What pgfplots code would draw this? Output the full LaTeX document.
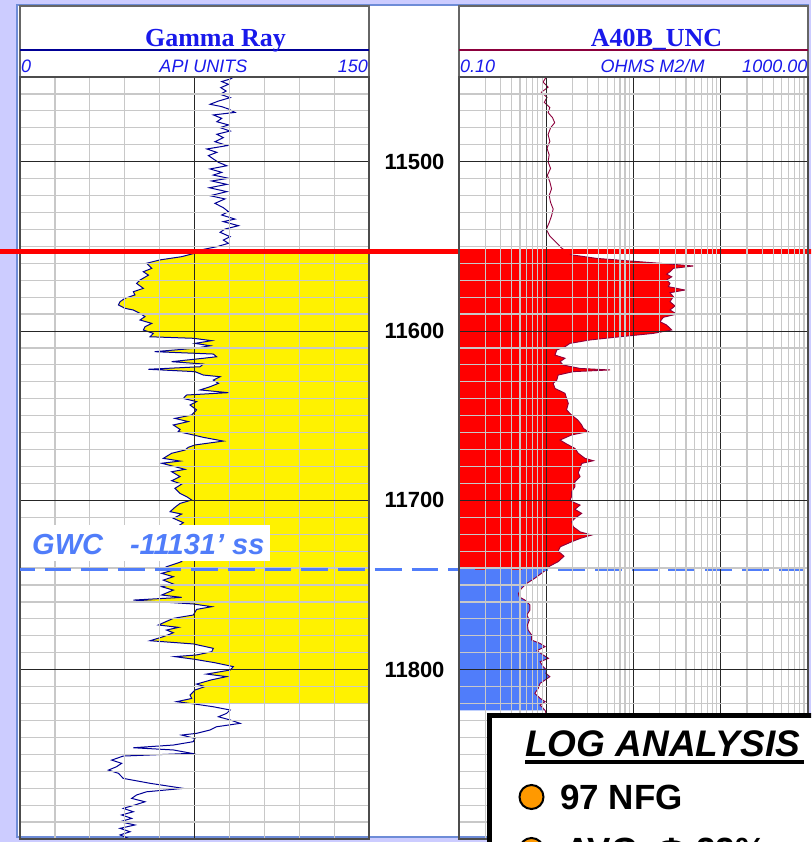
\documentclass[border=0pt]{standalone}
\usepackage{pgfplots}
\pgfplotsset{compat=1.18}
\usepackage{pgfplotstable}
\usepackage{fontspec}
\setmainfont{Liberation Sans}
\newfontfamily\tnr{Liberation Serif}

\definecolor{lav}{RGB}{204,204,255}
\definecolor{framebl}{RGB}{110,140,215}
\definecolor{ttlblue}{RGB}{25,25,235}
\definecolor{grnavy}{RGB}{0,0,150}
\definecolor{resmaroon}{RGB}{140,0,60}
\definecolor{gwcblue}{RGB}{80,125,250}
\definecolor{gridgray}{RGB}{200,200,200}
\definecolor{orng}{RGB}{255,153,0}

% Gamma ray: depth d (ft), value v (API)
\pgfplotstableread{
d v
11450 92
11451.2 90.3
11452.7 86.7
11454.3 89.6
11456.3 86.3
11458.3 88.6
11460.2 86.0
11462.2 90.3
11464.2 85.3
11466.1 81.7
11467.5 86.7
11468.9 89.6
11470.9 92.4
11472.4 83.1
11474.4 86.7
11476.4 84.6
11478.3 89.6
11479.9 86.0
11481.9 90.3
11483.8 84.6
11485.8 87.4
11488.2 83.8
11490.5 89.1
11492.5 80.3
11494.5 84.6
11496.4 81.0
11498.4 83.1
11500.4 85.3
11502.4 88.9
11504.3 81.7
11506.3 86.7
11507.9 83.1
11509.8 89.6
11511.4 82.4
11513.4 88.9
11515.4 81.4
11517.7 88.9
11520.1 81.7
11522.0 88.1
11524.6 83.8
11527.2 87.4
11529.5 89.6
11531.5 86.7
11533.9 92.4
11535.4 87.4
11537.8 93.9
11539.8 88.1
11541.7 86.0
11544.3 90.3
11546.3 87.4
11548.2 89.6
11550.2 84.6
11552.2 77.4
11553 76.3
11554.1 75.0
11556.1 69.5
11558.0 60.2
11560.0 54.4
11563.0 56.6
11565.0 53.0
11567.0 55.2
11569.9 51.6
11571.9 50.1
11574.8 53.0
11576.8 48.7
11578.7 49.4
11580.7 45.1
11582.7 43.0
11584.6 42.3
11586.6 45.1
11587.6 48.7
11589.6 51.6
11591.5 53.7
11593.5 51.6
11595.5 56.6
11597.5 53.7
11599.4 53.0
11601.4 57.3
11603.4 55.9
11604.3 74.5
11605.7 82.4
11607.3 75.2
11608.7 81.7
11610.2 75.2
11612.2 57.9
11613.6 83.1
11615.2 84.5
11616.1 78.8
11618.1 65.2
11619.5 78.8
11621.1 77.4
11622.6 55.2
11624.0 75.2
11626.0 78.8
11627.0 86.0
11629.0 83.1
11630.9 85.3
11632.9 81.7
11634.8 77.4
11636.4 89.5
11637.8 71.6
11639.8 70.2
11641.7 75.9
11643.7 73.1
11646.6 75.9
11649.6 73.8
11651.6 66.6
11653.5 72.3
11655.5 65.9
11658.1 68.8
11659.4 68.0
11661.4 74.5
11662.8 78.8
11665.0 87.4
11667.3 75.2
11668.7 72.3
11670.3 70.9
11672.2 65.2
11675.2 61.6
11676.8 68.8
11678.1 60.9
11680.1 66.6
11681.7 70.9
11683.1 65.2
11686.0 68.8
11688.4 65.2
11690.4 69.5
11692.9 66.6
11695.9 68.8
11697.8 71.6
11699.8 73.8
11701.8 68.8
11704.1 66.6
11706.7 64.5
11708.1 69.5
11710.6 65.9
11713.2 70.2
11716 67
11719 71
11722 66
11725 70
11728 67
11731 71
11734 68
11736.2 69.5
11739.2 63.0
11741.2 65.9
11743.1 60.9
11745.1 65.9
11747.1 61.6
11749.4 65.9
11751.0 60.9
11753.0 65.9
11755.9 60.9
11757.3 69.5
11758.9 48.7
11761.2 74.5
11762.8 82.4
11764.4 75.9
11767.7 74.5
11769.7 65.9
11773.6 59.5
11775.0 68.1
11776.6 63.0
11778.2 65.9
11780.5 61.6
11782.9 55.9
11784.8 74.5
11787.4 83.1
11789.4 82.4
11791.3 75.9
11792.3 66.6
11793.9 75.2
11795.9 83.8
11798.2 91.7
11800.2 90.3
11802.6 80.2
11804.1 88.8
11806.1 82.0
11808.5 75.9
11810.0 79.5
11812.0 75.2
11815.0 73.1
11817.0 73.8
11818.9 67.3
11820 73.5
11820.3 75.2
11821.9 83.1
11823.8 90.3
11825.8 88.8
11827.8 85.3
11829.7 90.3
11831.7 94.6
11833.7 84.5
11835.6 81.7
11837.6 75.9
11838.6 69.5
11840.6 75.2
11842.5 74.5
11844.5 65.9
11846.1 48.7
11847.4 65.9
11849.4 73.8
11851.0 44.4
11853.4 39.4
11855.3 43.7
11857.3 41.5
11859.3 38.0
11861.2 42.3
11864.2 44.4
11867.1 55.9
11870.1 70.2
11872.1 54.4
11874.0 50.1
11876.0 48.0
11878.0 53.7
11879.9 49.4
11881.9 44.4
11883.9 48.7
11885.8 43.7
11887.8 48.0
11889.8 43.0
11891.7 49.4
11893.7 43.0
11895.7 47.3
11897.6 43.0
11899.6 46.6
}\grdata

% Resistivity: depth d (ft), value r (ohm m)
\pgfplotstableread{
d r
11450 1.00
11453 0.92
11456 1.05
11459 0.88
11462 1.02
11465 0.95
11468 1.10
11471 1.05
11474 1.18
11477 1.25
11480 1.12
11484 1.05
11488 1.10
11492 1.02
11496 1.08
11500 1.05
11504 1.12
11508 1.03
11512 1.10
11516 1.15
11520 1.08
11524 1.12
11528 1.20
11532 1.15
11536 1.08
11540 1.00
11544 1.10
11548 1.32
11551 1.50
11553 1.70
11555 1.95
11557.1 3.78
11559.1 11.9
11560 20.1
11561.6 48.5
11563 28.6
11565 26.2
11566.4 24.0
11568 27.4
11569.9 24.0
11571.8 26.2
11573.8 25.1
11575.8 38.9
11577.4 26.2
11579.7 28.6
11582.7 26.2
11585.2 29.9
11587.6 26.2
11590 31.3
11591.9 22.0
11594.5 20.1
11596.5 24.0
11599.4 27.4
11601.4 16.9
11603.4 7.0
11605.3 3.17
11607.3 1.87
11609.3 1.64
11611.2 1.32
11614.2 1.26
11616.1 1.64
11618.1 1.44
11620.1 1.57
11622.1 2.44
11623 5.38
11624 2.04
11626 1.37
11629 1.32
11630.9 1.20
11633.9 1.26
11636.8 1.64
11639.8 1.71
11642.7 1.79
11646.6 1.71
11649.6 1.95
11652.6 2.30
11655.5 2.55
11657.5 2.66
11659.4 3.03
11661.4 1.95
11664.4 1.44
11666.7 1.71
11669.3 2.13
11672.2 2.33
11675.2 2.78
11676.6 3.47
11678.2 2.55
11681.1 2.44
11683.7 2.33
11686 2.44
11689 2.13
11692 2.13
11694.9 1.95
11697.8 1.95
11700.2 1.87
11702.8 2.44
11705.3 2.13
11707.7 2.55
11710.6 2.13
11712.6 1.95
11715.6 2.04
11718.6 2.44
11720.5 3.32
11722.5 2.44
11724.5 1.95
11727.4 1.45
11730 1.37
11733 1.60
11736.2 1.37
11738.8 1.10
11741 1.00
11743.1 0.88
11746 0.74
11749 0.60
11752 0.52
11755 0.48
11757 0.49
11758.9 0.57
11761.8 0.65
11764.8 0.65
11767.7 0.60
11770.7 0.64
11773.6 0.61
11776.6 0.62
11779.5 0.68
11782.5 0.68
11784.5 0.85
11786.4 0.97
11788.8 0.78
11791.3 0.92
11793.3 1.06
11795.3 0.85
11798.2 0.92
11800.2 1.01
11802.2 0.99
11804.1 1.10
11806.1 0.97
11808.1 0.85
11811 0.81
11814 0.74
11816.9 0.85
11818.9 0.97
11820.9 0.85
11824 0.97
11826.8 1.01
11830 0.95
11835 1.05
11840 0.98
11845 1.08
11850 1.00
11860 1.05
11870 0.95
11880 1.02
11890 0.98
11900 1.00
}\resdata

\pgfplotsset{
  logtrack/.style={
    scale only axis, width=349pt, height=762pt, anchor=north west,
    ymin=11450, ymax=11900, y dir=reverse,
    scaled ticks=false,
    minor ytick={11460,11470,11480,11490,11510,11520,11530,11540,11550,11560,11570,11580,11590,11610,11620,11630,11640,11650,11660,11670,11680,11690,11710,11720,11730,11740,11750,11760,11770,11780,11790,11810,11820,11830,11840,11850,11860,11870,11880,11890},
    ytick={11500,11600,11700,11800},
    xmajorgrids, xminorgrids, ymajorgrids, yminorgrids,
    major grid style={black!85, line width=0.9pt},
    minor grid style={gridgray, line width=1.2pt},
    major tick length=0pt, minor tick length=0pt,
    tick style={draw=none},
    xticklabels={},
    axis line style={black!70, line width=1.2pt},
    axis on top,
  }
}

\begin{document}
\begin{tikzpicture}
\useasboundingbox (0,0) rectangle (811pt,-842pt);
\clip (0,0) rectangle (811pt,-842pt);

\begin{scope}[x=1pt,y=-1pt]
  \fill[lav] (0,0) rectangle (811,842);
  \filldraw[fill=white, draw=framebl, line width=1.5pt] (17,5) rectangle (808.5,837);
  % Gamma ray header
  \draw[black!60, line width=1.3pt] (20,6) rectangle (369,77);
  \draw[grnavy, line width=1.3pt] (20,50) -- (369,50);
  \node[anchor=base, inner sep=0, font=\tnr\bfseries\fontsize{26}{30}\selectfont, text=ttlblue] at (215.5,46.7) {Gamma Ray};
  \node[anchor=base west, inner sep=0, font=\itshape\fontsize{18}{20}\selectfont, text=ttlblue] at (21,72.7) {0};
  \node[anchor=base, inner sep=0, font=\itshape\fontsize{18}{20}\selectfont, text=ttlblue] at (203.5,72.7) {API UNITS};
  \node[anchor=base east, inner sep=0, font=\itshape\fontsize{18}{20}\selectfont, text=ttlblue] at (368,72.7) {150};
  % Resistivity header
  \draw[black!60, line width=1.3pt] (459,6) rectangle (808,77);
  \draw[resmaroon, line width=1.3pt] (459,50) -- (808,50);
  \node[anchor=base, inner sep=0, font=\tnr\bfseries\fontsize{26}{30}\selectfont, text=ttlblue] at (656.5,46.7) {A40B\_UNC};
  \node[anchor=base west, inner sep=0, font=\itshape\fontsize{18}{20}\selectfont, text=ttlblue] at (460,72.7) {0.10};
  \node[anchor=base, inner sep=0, font=\itshape\fontsize{18}{20}\selectfont, text=ttlblue] at (652.5,72.7) {OHMS M2/M};
  \node[anchor=base east, inner sep=0, font=\itshape\fontsize{18}{20}\selectfont, text=ttlblue] at (807.5,72.7) {1000.00};
\end{scope}

% Gamma ray track
\begin{axis}[logtrack, at={(20pt,-77pt)},
  xmin=0, xmax=150,
  xtick={75}, minor xtick={15,30,45,60,90,105,120,135},
  yticklabel pos=right,
  yticklabels={11500,11600,11700,11800},
  yticklabel style={font=\bfseries\fontsize{22}{24}\selectfont, anchor=center, xshift=45.5pt},
]
  \addplot[fill=yellow, draw=none, forget plot] table[x=v, y=d, restrict y to domain=11553:11820] {\grdata}
     -- (axis cs:150,11820) -- (axis cs:150,11553) -- cycle;
  \addplot[grnavy, line width=1pt, mark=none] table[x=v, y=d] {\grdata};
\end{axis}

% Resistivity track
\begin{axis}[logtrack, at={(459pt,-77pt)},
  xmode=log, xmin=0.1, xmax=1000,
  xtick={1,10,100},
  minor xtick={0.2,0.3,0.4,0.5,0.6,0.7,0.8,0.9,2,3,4,5,6,7,8,9,20,30,40,50,60,70,80,90,200,300,400,500,600,700,800,900},
  yticklabels={},
  clip=false,
]
  \addplot[fill=red, draw=none, forget plot] table[x=r, y=d, restrict y to domain=11553:11741] {\resdata}
     -- (axis cs:0.1,11741) -- (axis cs:0.1,11553) -- cycle;
  \addplot[fill=gwcblue, draw=none, forget plot] table[x=r, y=d, restrict y to domain=11741:11824] {\resdata}
     -- (axis cs:0.1,11824) -- (axis cs:0.1,11741) -- cycle;
  \addplot[resmaroon, line width=0.9pt, mark=none] table[x=r, y=d] {\resdata};
  % top of sand and gas-water contact
  \addplot[red, line width=4.5pt, forget plot] coordinates {(1e-7,11553) (3000,11553)};
  \addplot[gwcblue, line width=3.3pt, dash pattern=on 26.7pt off 10pt, dash phase=12.2pt, forget plot] coordinates {(9.31e-7,11741) (1100,11741)};
\end{axis}

\begin{scope}[x=1pt,y=-1pt]
  % GWC label
  \fill[white] (21,525) rectangle (270,561);
  \node[anchor=base west, inner sep=0, font=\bfseries\itshape\fontsize{29}{31}\selectfont, text=gwcblue] at (32,554) {GWC\hspace{27pt}-11131’ ss};
  % Log analysis box
  \filldraw[fill=white, draw=black, line width=5pt] (489,715.5) rectangle (860,900);
  \node[anchor=base west, inner sep=0, font=\bfseries\itshape\fontsize{37}{40}\selectfont] at (525,756) {LOG ANALYSIS};
  \draw[black, line width=4pt] (525,761.5) -- (804,761.5);
  \filldraw[fill=orng, draw=black, line width=2pt] (531.5,797) circle (12pt);
  \node[anchor=base west, inner sep=0, font=\bfseries\fontsize{35}{38}\selectfont] at (560,809) {97 NFG};
  \filldraw[fill=orng, draw=black, line width=2pt] (531.5,850) circle (12pt);
  \node[anchor=base west, inner sep=0, font=\bfseries\fontsize{35}{38}\selectfont] at (565,862) {AVG. Φ 22\%};
\end{scope}
\end{tikzpicture}
\end{document}
